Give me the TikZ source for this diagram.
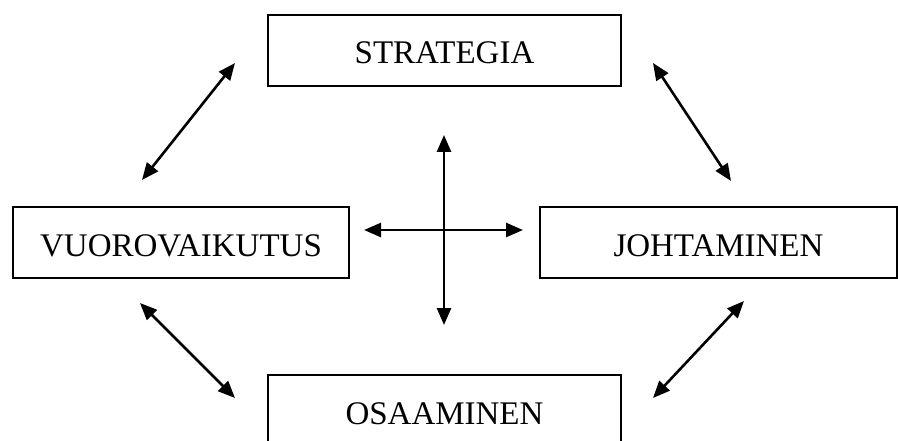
\documentclass[tikz,border=0pt]{standalone}
\usepackage{fontspec}
\setmainfont{Liberation Serif}
\usetikzlibrary{arrows.meta}
\begin{document}
\begin{tikzpicture}[x=1pt,y=-1pt,
  box/.style={draw, line width=2pt, inner sep=0pt, anchor=north west,
    text height=49pt, text depth=22pt, font=\fontsize{33}{38}\selectfont},
  link/.style={line width=2.6pt,
    {Triangle[length=17pt,width=14pt]}-{Triangle[length=17pt,width=14pt]}}]
\clip (0,0) rectangle (898,441);
\fill[white] (0,0) rectangle (898,441);
\node[box, minimum width=353pt] (strat) at (267,14) {STRATEGIA};
\node[box, minimum width=336pt] (vuoro) at (12,206) {VUOROVAIKUTUS};
\node[box, minimum width=357pt] (johta) at (539,206) {JOHTAMINEN};
\node[box, minimum width=353pt] (osaa) at (267,374) {OSAAMINEN};
% diagonal arrows
\coordinate (ul1) at (142,180); \coordinate (ul2) at (235,63);
\coordinate (ur1) at (653,63);  \coordinate (ur2) at (731,181);
\coordinate (ll1) at (140,303); \coordinate (ll2) at (235,398);
\coordinate (lr1) at (653,398); \coordinate (lr2) at (744,301);
\draw[link] (ul1) -- (ul2);
\draw[link] (ur1) -- (ur2);
\draw[link] (ll1) -- (ll2);
\draw[link] (lr1) -- (lr2);
% central cross
\coordinate (ct) at (444,135); \coordinate (cb) at (444,325);
\coordinate (cl) at (364,230); \coordinate (cr) at (523,230);
\draw[link] (ct) -- (cb);
\draw[link] (cl) -- (cr);
\end{tikzpicture}
\end{document}
